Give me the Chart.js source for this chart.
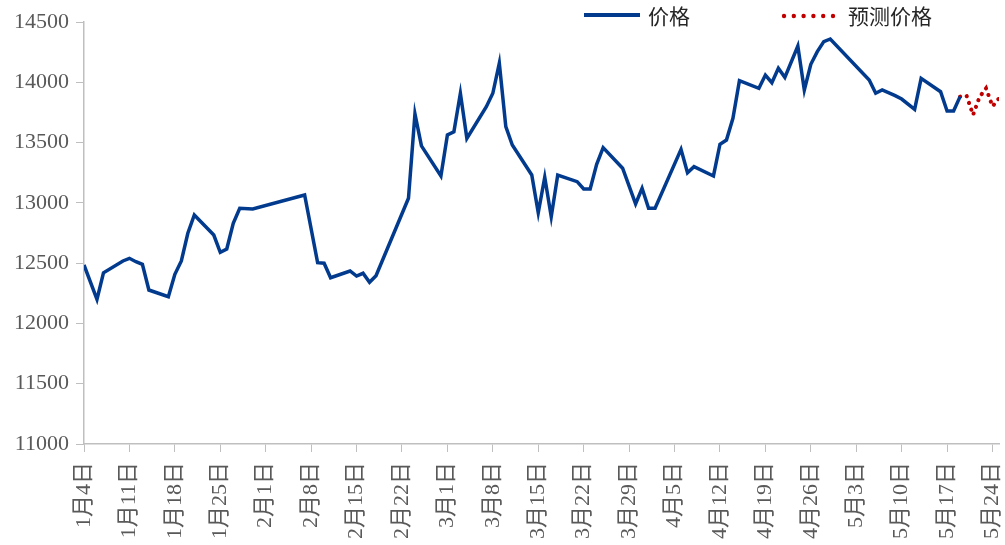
<!DOCTYPE html>
<html>
<head>
<meta charset="utf-8">
<script src="https://cdn.jsdelivr.net/npm/chart.js@4.4.1/dist/chart.umd.min.js"></script>
<style>
  body { margin: 0; background: #fff; }
  #wrap { position: relative; width: 1005px; height: 545px; }
  .lg { position: absolute; top: 2px; font: 21px 'Noto Sans CJK SC', sans-serif; color: #262626; line-height: 26px; }
</style>
</head>
<body>
<div id="wrap">
  <canvas id="grafico"></canvas>
  <div class="lg" style="left:648px">价格</div>
  <div class="lg" style="left:848px">预测价格</div>
</div>
<script>
// dias desde el 4 de enero
const dias = [0, 2, 3, 6, 7, 8, 9, 10, 13, 14, 15, 16, 17, 20, 21, 22, 23, 24, 26, 34,
  36, 37, 38, 41, 42, 43, 44, 45, 50, 51, 52, 55, 56, 57, 58, 59, 62, 63, 64, 65,
  66, 69, 70, 71, 72, 73, 76, 77, 78, 79, 80, 83, 85, 86, 87, 88, 92, 93, 94, 97,
  98, 99, 100, 101, 104, 105, 106, 107, 108, 110, 111, 112, 113, 114, 115, 121, 122, 123, 125, 126,
  128, 129, 132, 133, 134, 135];
const precios = [12485, 12200, 12420, 12518, 12540, 12512, 12490, 12277, 12222, 12407, 12518, 12748, 12899, 12733, 12590, 12617, 12830, 12955, 12950, 13065,
  12504, 12499, 12379, 12435, 12393, 12416, 12341, 12396, 13038, 13737, 13472, 13223, 13563, 13590, 13909, 13535, 13798, 13909, 14158, 13632,
  13480, 13231, 12918, 13212, 12885, 13231, 13176, 13115, 13115, 13320, 13458, 13287, 12991, 13121, 12955, 12955, 13444, 13250, 13300, 13223,
  13486, 13521, 13701, 14013, 13950, 14060, 13997, 14116, 14041, 14301, 13936, 14149, 14254, 14337, 14359, 14019, 13909, 13936, 13889, 13861,
  13776, 14033, 13922, 13762, 13762, 13881];

const diasPrev = [135, 136, 137, 138, 139, 140, 141];
const preciosPrev = [13881, 13889, 13729, 13878, 13950, 13801, 13867];

const etiquetas = ["1月4日", "1月11日", "1月18日", "1月25日", "2月1日", "2月8日", "2月15日",
  "2月22日", "3月1日", "3月8日", "3月15日", "3月22日", "3月29日", "4月5日", "4月12日",
  "4月19日", "4月26日", "5月3日", "5月10日", "5月17日", "5月24日"];

const fuente = "'Liberation Serif', 'Noto Sans CJK SC', serif";
const gris = '#bfbfbf';

// leyenda dibujada en el canvas (muestras de línea)
const muestras = {
  id: 'muestras',
  afterDraw(chart) {
    const ctx = chart.ctx;
    ctx.save();
    ctx.strokeStyle = '#023a8e';
    ctx.lineWidth = 4;
    ctx.beginPath();
    ctx.moveTo(584, 15);
    ctx.lineTo(640, 15);
    ctx.stroke();
    ctx.fillStyle = '#c00000';
    for (let i = 0; i < 6; i++) {
      ctx.beginPath();
      ctx.arc(784 + i * 9.8, 16, 2.2, 0, Math.PI * 2);
      ctx.fill();
    }
    ctx.restore();
  }
};

const ctx = document.getElementById('grafico').getContext('2d');
new Chart(ctx, {
  type: 'line',
  data: {
    datasets: [{
      label: '价格',
      data: dias.map((d, i) => ({ x: d, y: precios[i] })),
      borderColor: '#023a8e',
      borderWidth: 3.5,
      pointRadius: 0,
      tension: 0
    }, {
      label: '预测价格',
      data: diasPrev.map((d, i) => ({ x: d, y: preciosPrev[i] })),
      borderColor: '#c00000',
      borderWidth: 4,
      borderDash: [0.1, 7],
      borderCapStyle: 'round',
      pointRadius: 0,
      tension: 0
    }]
  },
  options: {
    responsive: true,
    maintainAspectRatio: false,
    animation: false,
    layout: { padding: { top: 22, right: 6, left: 0, bottom: 0 } },
    plugins: {
      legend: { display: false },
      tooltip: { enabled: false }
    },
    scales: {
      x: {
        type: 'linear',
        min: 0,
        max: 141,
        afterFit(scale) {
          scale.height = 101;
          scale.paddingLeft = 0;
          scale.paddingRight = 0;
        },
        grid: { drawOnChartArea: false, drawTicks: true, tickLength: 8, color: gris },
        border: { display: true, color: gris, width: 1.5 },
        ticks: {
          stepSize: 7,
          includeBounds: false,
          autoSkip: false,
          maxRotation: 90,
          minRotation: 90,
          padding: 10,
          color: '#595959',
          font: { family: fuente, size: 22 },
          callback: (v) => (v % 7 === 0 ? etiquetas[v / 7] : '')
        }
      },
      y: {
        min: 11000,
        max: 14500,
        afterFit(scale) { scale.width = 84; },
        grid: { drawOnChartArea: false, drawTicks: true, tickLength: 8, color: gris },
        border: { display: true, color: gris, width: 1.5 },
        ticks: {
          stepSize: 500,
          padding: 7,
          color: '#595959',
          font: { family: fuente, size: 22 },
          callback: (v) => String(v)
        }
      }
    }
  },
  plugins: [muestras]
});
</script>
</body>
</html>
